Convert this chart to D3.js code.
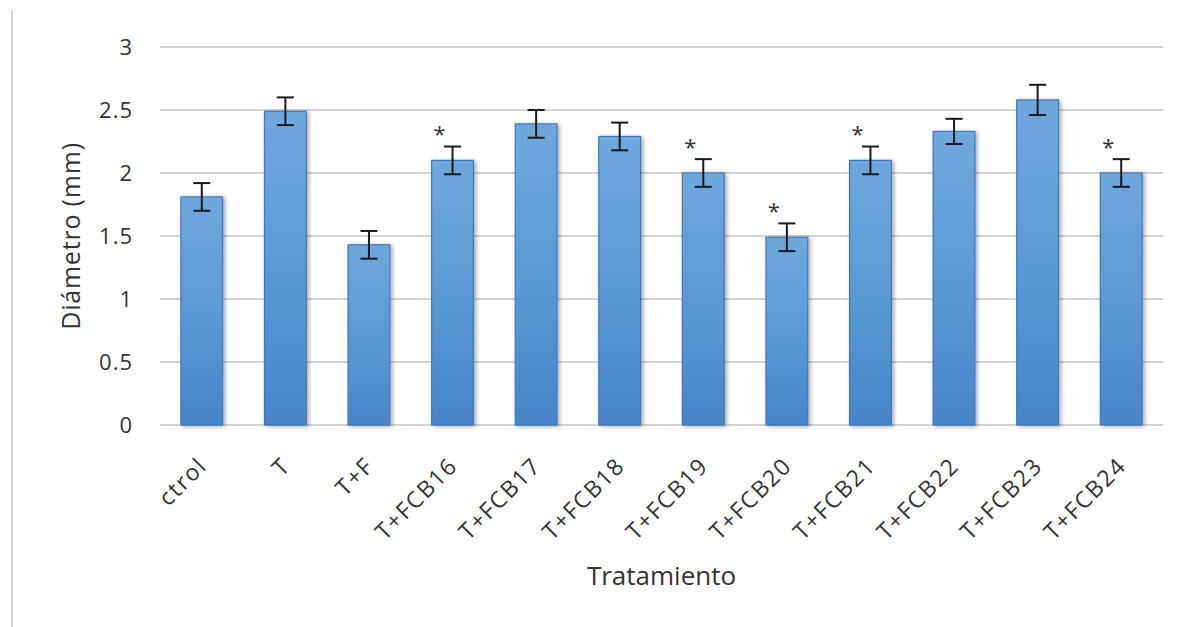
<!DOCTYPE html>
<html>
<head>
<meta charset="utf-8">
<script src="https://cdn.jsdelivr.net/npm/d3@7"></script>
<style>
  html, body { margin: 0; padding: 0; background: #ffffff; }
  svg { display: block; }
  text { font-family: "Open Sans", "Noto Sans", sans-serif; fill: #333333; }
</style>
</head>
<body>
<svg id="chart" width="1193" height="627"></svg>
<script>
// Diámetro medio por tratamiento, con su error
const categories = ["ctrol", "T", "T+F", "T+FCB16", "T+FCB17", "T+FCB18",
                    "T+FCB19", "T+FCB20", "T+FCB21", "T+FCB22", "T+FCB23", "T+FCB24"];
const diameters  = [1.81, 2.49, 1.43, 2.10, 2.39, 2.29, 2.00, 1.49, 2.10, 2.33, 2.58, 2.00];
const errors     = [0.11, 0.11, 0.11, 0.11, 0.11, 0.11, 0.11, 0.11, 0.11, 0.10, 0.12, 0.11];
// tratamientos con diferencia significativa
const significant = ["T+FCB16", "T+FCB19", "T+FCB20", "T+FCB21", "T+FCB24"];
const yTicks = [0, 0.5, 1, 1.5, 2, 2.5, 3];

const svg = d3.select("#chart");
const plotLeft = 160, plotRight = 1163, plotTop = 47, plotBottom = 425;

const x = d3.scaleBand().domain(categories).range([plotLeft, plotRight])
  .paddingInner(0.5).paddingOuter(0.25);
const y = d3.scaleLinear().domain([0, 3]).range([plotBottom, plotTop]);

const defs = svg.append("defs");
const grad = defs.append("linearGradient").attr("id", "barFill")
  .attr("x1", 0).attr("y1", 0).attr("x2", 0).attr("y2", 1);
grad.append("stop").attr("offset", "0%").attr("stop-color", "#6fa8dd");
grad.append("stop").attr("offset", "55%").attr("stop-color", "#5898d4");
grad.append("stop").attr("offset", "100%").attr("stop-color", "#4785c8");
const shadow = defs.append("filter").attr("id", "barShadow")
  .attr("x", "-30%").attr("y", "-10%").attr("width", "160%").attr("height", "120%");
shadow.append("feDropShadow").attr("dx", 2).attr("dy", 1)
  .attr("stdDeviation", 2.2).attr("flood-color", "#000").attr("flood-opacity", 0.35);

// borde izquierdo del área del gráfico
svg.append("line").attr("x1", 12).attr("x2", 12).attr("y1", 10).attr("y2", 627)
  .attr("stroke", "#d4d4d4").attr("stroke-width", 2);

// líneas de cuadrícula
svg.append("g").selectAll("line").data(yTicks).join("line")
  .attr("x1", plotLeft).attr("x2", plotRight)
  .attr("y1", d => y(d)).attr("y2", d => y(d))
  .attr("stroke", "#c4c4c4").attr("stroke-width", 1.6);

// eje Y
const yAxis = svg.append("g").attr("transform", `translate(${plotLeft},0)`)
  .call(d3.axisLeft(y).tickValues(yTicks).tickFormat(d3.format("")).tickSize(0).tickPadding(27));
yAxis.select(".domain").remove();
yAxis.selectAll("text").style("font-size", "22px").style("letter-spacing", "1px")
  .attr("fill", "#333333");

// barras
svg.append("g").selectAll("rect").data(categories).join("rect")
  .attr("x", d => x(d))
  .attr("y", (d, i) => y(diameters[i]))
  .attr("width", x.bandwidth())
  .attr("height", (d, i) => y(0) - y(diameters[i]))
  .attr("fill", "url(#barFill)")
  .attr("stroke", "#3f78bb").attr("stroke-width", 1.2)
  .attr("filter", "url(#barShadow)");

// barras de error
const cap = 8.5;
const eb = svg.append("g").attr("stroke", "#1a1a1a").attr("stroke-width", 2);
categories.forEach((c, i) => {
  const cx = x(c) + x.bandwidth() / 2;
  const hi = y(diameters[i] + errors[i]), lo = y(diameters[i] - errors[i]);
  eb.append("line").attr("x1", cx).attr("x2", cx).attr("y1", hi).attr("y2", lo);
  eb.append("line").attr("x1", cx - cap).attr("x2", cx + cap).attr("y1", hi).attr("y2", hi);
  eb.append("line").attr("x1", cx - cap).attr("x2", cx + cap).attr("y1", lo).attr("y2", lo);
});

// asteriscos de significancia
svg.append("g").selectAll("text").data(significant).join("text")
  .attr("x", d => x(d) + x.bandwidth() / 2 - 13)
  .attr("y", d => { const i = categories.indexOf(d); return y(diameters[i] + errors[i]) - 18; })
  .attr("text-anchor", "middle").attr("dy", "0.62em")
  .style("font-size", "22px")
  .attr("fill", "#2b2b3a")
  .text("*");

// etiquetas de categoría
const xAxis = svg.append("g").attr("transform", `translate(0,${plotBottom})`)
  .call(d3.axisBottom(x).tickSize(0).tickPadding(0));
xAxis.select(".domain").remove();
xAxis.selectAll("text")
  .attr("text-anchor", "end")
  .attr("dominant-baseline", "central")
  .attr("dy", null)
  .attr("y", 0)
  .attr("transform", "translate(0,36) rotate(-45)")
  .style("font-size", "23px").style("letter-spacing", "1.6px")
  .attr("fill", "#333333");

// títulos de ejes
svg.append("text").attr("x", (plotLeft + plotRight) / 2).attr("y", 585)
  .attr("text-anchor", "middle").style("font-size", "26px")
  .text("Tratamiento");
svg.append("text")
  .attr("transform", `translate(80,${(plotTop + plotBottom) / 2}) rotate(-90)`)
  .attr("text-anchor", "middle").style("font-size", "25px").style("letter-spacing", "0.8px")
  .text("Diámetro (mm)");
</script>
</body>
</html>
